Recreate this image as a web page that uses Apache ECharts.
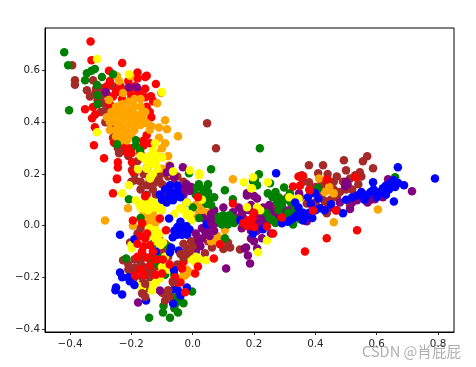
<!DOCTYPE html>
<html><head><meta charset="utf-8">
<style>html,body{margin:0;padding:0;background:#fff}#c{width:476px;height:367px}</style>
<script src="https://cdn.jsdelivr.net/npm/echarts@6/dist/echarts.min.js"></script>
</head><body><div id="c"></div>
<script>
const xTicks=[-0.4,-0.2,0,0.2,0.4,0.6,0.8];
const yTicks=[-0.4,-0.2,0,0.2,0.4,0.6];
const brownPoints=[[-0.393,0.621],[-0.384,0.563],[-0.384,0.545],[-0.345,0.524],[-0.335,0.5],[-0.325,0.563],[-0.296,0.532],[-0.292,0.474],[-0.3,0.44],[-0.276,0.42],[-0.265,0.38],[-0.247,0.517],[-0.235,0.54],[-0.244,0.3],[-0.225,0.29],[-0.25,0.35],[0.047,0.396],[0.076,0.3],[-0.149,0.222],[-0.198,0.215],[-0.188,0.176],[-0.107,0.203],[-0.1,0.203],[-0.11,0.18],[-0.149,0.156],[-0.17,0.17],[-0.13,0.14],[-0.09,0.13],
[0.04,-0.107],[0.122,-0.084],[0.154,-0.092],[0.063,-0.084],[0.115,-0.065],[-0.227,-0.134],[-0.188,-0.162],[-0.204,-0.065],[-0.21,-0.15],[-0.15,-0.18],
[0.379,0.234],[0.425,0.234],[0.493,0.253],[0.555,0.249],[0.569,0.269],[0.588,0.222],[0.5,0.214],[0.545,0.207],[0.53,0.195],[0.356,0.195],[0.409,0.203],[0.44,0.2],[0.513,0.183],[0.55,0.19],[0.46,0.17],[0.379,0.168],[0.47,0.11],[0.5,0.14],[0.437,0.048],[0.372,0.086],[0.399,0.09],[0.43,0.095],[0.513,0.079],[0.43,0.15],[0.4,0.15]];
const brownMore=[[-0.3,0.5],[-0.315,0.53],[-0.28,0.46],[-0.27,0.5],[-0.26,0.54],[-0.285,0.4],[-0.26,0.34],[-0.23,0.32],[-0.21,0.27],[-0.18,0.25],[-0.16,0.2],[-0.14,0.18],[-0.125,0.165],[-0.08,0.19],[-0.06,0.16],[-0.12,0.2],[-0.1,0.16],[-0.19,-0.2],[-0.17,-0.14],[-0.2,-0.18],[-0.18,-0.17],[-0.16,-0.16],[-0.165,-0.2],[-0.14,-0.17],[-0.12,-0.16],[-0.11,-0.14],[0.42,0.17],[0.44,0.18],[0.46,0.14],[0.48,0.13],[0.45,0.1],[0.42,0.12],[0.47,0.19],[0.49,0.17],[0.52,0.14],[0.54,0.16],[0.38,0.14],[0.36,0.17],[0.35,0.11],[0.41,0.07],[0.44,0.07],[0.08,-0.05],[0.1,-0.09],[0.05,-0.06],[0.29,0.1],[0.27,0.07],[0.31,0.11]];
const brownFill=[[-0.32,0.51],[-0.31,0.485],[-0.29,0.51],[-0.285,0.445],[-0.27,0.4],[-0.255,0.32],[-0.24,0.28],[-0.19,0.2],[-0.17,0.14],[-0.15,0.12],[-0.12,0.12],[-0.2,0.17],[-0.05,0.19],[-0.03,0.17],[-0.21,-0.17],[-0.19,-0.13],[-0.16,-0.12],[-0.14,-0.2],[-0.13,-0.18],[-0.1,-0.1],[-0.08,-0.12],[-0.17,-0.23],[-0.16,-0.25],[-0.15,-0.24],[-0.1,-0.26],[-0.05,-0.15],[-0.17,-0.01],[-0.18,-0.03],[-0.11,-0.05],[-0.09,-0.07]];
const redUpper=[[-0.333,0.713],[-0.33,0.64],[-0.23,0.63],[-0.273,0.6],[-0.18,0.593],[-0.18,0.57],[-0.15,0.58],[-0.155,0.575],[-0.12,0.548],[-0.351,0.451],[-0.325,0.459],[-0.328,0.416],[-0.318,0.43],[-0.319,0.381],[-0.322,0.311],[-0.289,0.261],[-0.244,0.245],[-0.244,0.225],[-0.247,0.183],[-0.198,0.245],[-0.195,0.21],[-0.257,0.323],[-0.214,0.284],[-0.2,0.3],[-0.139,0.319],[-0.136,0.501],[-0.129,0.482],[-0.155,0.497],[-0.27,0.56],[-0.25,0.52],[-0.23,0.49],[-0.26,0.5],[-0.21,0.56],[-0.19,0.54],[-0.17,0.52],[-0.2,0.5],[-0.28,0.54],[-0.15,0.46],[-0.135,0.42],[-0.15,0.35],[-0.16,0.33],[-0.24,0.54],[-0.22,0.52],[-0.2,0.53],[-0.18,0.51],[-0.24,0.46],[-0.27,0.47],[-0.155,0.53],[-0.14,0.44],[-0.2,0.28],[-0.17,0.28],[-0.16,0.31],[-0.22,0.31]];
const orangePoints=[[-0.28,0.42],[-0.27,0.4],[-0.265,0.44],[-0.27,0.37],[-0.25,0.46],[-0.25,0.43],[-0.25,0.4],[-0.25,0.37],[-0.25,0.345],[-0.235,0.33],[-0.23,0.47],[-0.23,0.44],[-0.23,0.41],[-0.23,0.38],[-0.23,0.35],[-0.21,0.48],[-0.21,0.45],[-0.21,0.42],[-0.21,0.39],[-0.21,0.36],[-0.215,0.33],[-0.19,0.49],[-0.19,0.46],[-0.19,0.43],[-0.19,0.4],[-0.19,0.37],[-0.17,0.49],[-0.17,0.46],[-0.17,0.43],[-0.17,0.39],[-0.155,0.44],[-0.15,0.396],[-0.14,0.37],[-0.135,0.385],
[-0.09,0.408],[-0.084,0.373],[-0.11,0.38],[-0.048,0.346],[-0.09,0.319],[-0.11,0.34],[-0.1,0.265],[-0.123,0.241],[-0.077,0.234],[-0.247,0.579],[-0.227,0.513],[-0.273,0.486],[-0.103,0.513],[-0.116,0.474],[-0.204,0.579],[-0.24,0.56],
[-0.286,0.02],[0.131,0.18],[-0.211,0.067],[-0.195,0],[-0.133,0.028],[-0.16,0.05],[-0.14,0.005],[-0.025,-0.193],[-0.04,-0.21],[-0.01,-0.18],[0.082,-0.061],[0.105,-0.018],[0.05,0.05],[0.03,0.04],[0.06,-0.03],[-0.05,0.13],
[0.604,0.063],[0.46,0.013],[0.445,0.137],[0.43,0.13],[0.46,0.125],[0.445,0.15],[0.412,0.183]];
const orangeMore=[[-0.15,0.03],[-0.13,0.045],[-0.115,0.02],[-0.125,0],[-0.16,0.02],[0.01,0.08],[0.02,0.05],[0.03,0.07],[0,0.03],[0.04,-0.04],[0.06,-0.06],[0.08,-0.04],[-0.03,-0.19],[-0.02,-0.17],[-0.1,0.3],[-0.12,0.28],[-0.08,0.27],[-0.07,0.2],[-0.1,0.22],[-0.24,0.44],[-0.22,0.43],[-0.2,0.44],[-0.18,0.41],[-0.22,0.37],[-0.24,0.39],[-0.2,0.41],[-0.26,0.41],[-0.16,0.41],[-0.2,0.35],[0.35,0.035],[0.04,0.09]];
const purplePoints=[[0.715,0.133],[0.637,0.18],[0.497,0.152],[0.505,0.16],[0.594,0.102],[0.57,0.09],[0.536,0.098],[0.513,0.065],[0.48,0.09],[0.347,0.125],[0.177,0.117],[0.21,0.105],[0.252,0.059],[0.3,0.06],[0.32,0.065],[0.372,0.017],[0.255,-0.03],[0.226,-0.049],[0.21,-0.088],[0.18,-0.115],[0.17,-0.088],[0.19,-0.05],[0.165,0.03],[0.2,0.04],[0.215,0.01],[0.235,0.03],[0.18,0],[0.19,-0.02],
[0.109,-0.166],[0.187,-0.146],[0.174,-0.084],[0.193,-0.049],[0.056,-0.006],[0.05,0.02],[0.07,0.06],[0.045,-0.03],[0.03,-0.01],[0.015,-0.05],[0.01,-0.1],[-0.025,0.148],[-0.01,0.135],[-0.03,0.12],[-0.178,-0.297],[-0.107,-0.251],[0.177,0.125],[0.2,0.115],[0.131,0.052],[0.1,0.07],[0.16,0.05],[0.185,0.06],[-0.208,0.536],[-0.182,0.536],[-0.283,0.517],[-0.032,0.226],[-0.074,0.23],[-0.061,0.187],[-0.084,0.207],[0.07,-0.02],[0.075,0.01]];
const purpleMore=[[0.15,0.07],[0.17,0.06],[0.19,0.08],[0.21,0.06],[0.23,0.07],[0.25,0.08],[0.27,0.05],[0.28,0.03],[0.22,0.04],[0.2,0.02],[0.24,0.01],[0.16,-0.01],[0.15,0.03],[0.17,0.02],[0.21,-0.02],[0.23,-0.01],[-0.02,0.16],[-0.035,0.135],[-0.005,0.15],[0.06,0.045],[0.075,0.035],[0.055,-0.04],[0.04,-0.02],[0.035,0.03],[0.025,-0.08],[0.03,-0.05],[0.2,-0.06],[0.29,0.075],[0.31,0.045],[0.45,0.07],[0.52,0.09],[0.55,0.11],[0.58,0.1],[0.62,0.11],[0.5,0.17],[0.47,0.06]];
const greenPoints=[[-0.419,0.671],[-0.406,0.621],[-0.403,0.447],[-0.345,0.59],[-0.351,0.563],[-0.319,0.606],[-0.33,0.6],[-0.296,0.575],[-0.312,0.544],[-0.309,0.505],[-0.31,0.47],[-0.26,0.586],[-0.185,0.331],[-0.185,0.31],[-0.247,0.315],[-0.172,0.292],[0.06,0.218],[-0.012,0.203],
[-0.142,-0.356],[-0.097,-0.336],[-0.095,-0.31],[-0.074,-0.356],[-0.06,-0.32],[-0.048,-0.336],[-0.041,-0.282],[-0.002,-0.255],[-0.074,-0.258],[-0.217,-0.127],[-0.123,-0.134],[0.014,0.148],[0.035,0.14],[0.105,0.137],[-0.208,0.102],[0.131,0.102],[0.034,0.098],[0.06,0.08],[0.203,0.176],[0.105,-0.049],
[0.219,0.3],[0.216,0.199],[0.197,0.172],[0.21,0.156],[0.252,0.164],[0.245,0.125],[0.27,0.13],[0.298,0.148],[0.275,0.09],[0.29,0.08],[0.334,0.067],[0.31,0.05],[0.327,0.005],[0.409,0.145],[0.66,0.187],[0.317,0.125],[0.262,0.02],[0.24,0.05]];
const greenMore=[[0.01,0.12],[0.03,0.12],[0.05,0.1],[0.02,0.16],[0.05,0.13],[0.07,0.11],[0.045,0.085],[-0.14,-0.13],[-0.125,-0.145],[-0.11,-0.125],[-0.13,-0.115],[-0.06,-0.28],[-0.055,-0.3],[-0.03,-0.3],[0.28,0.11],[0.3,0.1],[0.32,0.09],[0.26,0.11],[0.28,0.06],[0.3,0.03],[0.25,0.03],[0.27,0.01],[0.33,0.04],[0.355,0.05],[0.35,0.025]];
const yellowPoints=[[-0.312,0.645],[-0.312,0.362],[-0.208,0.586],[-0.1,0.517],[-0.162,0.265],[-0.14,0.27],[-0.123,0.319],[-0.13,0.29],[-0.15,0.25],[-0.139,0.187],[-0.009,0.214],[0.021,0.203],[-0.064,0.21],[-0.178,0.218],[-0.1,0.265],[-0.13,0.2],[-0.208,0.156],[-0.23,0.125],[-0.185,0.098],[-0.17,0.07],[-0.15,0.08],[-0.13,0.07],[-0.11,0.065],[-0.16,0.09],[-0.14,0.095],[-0.139,0.183],[-0.12,-0.018],[-0.097,-0.065],[-0.13,-0.04],[-0.198,-0.088],[-0.107,-0.204],[-0.133,-0.251],[-0.181,-0.231],[-0.12,-0.22],[0.008,-0.142],[0.043,-0.134],[-0.041,0.067],[-0.01,0.045],[-0.03,0.06],[0.167,0.168],[0.193,0.145],[0.021,0.195],[0.197,0.187],[0.19,0.145],[0.245,0.168],[0.334,0.098],[0.21,0.071],[0.177,0.071],[0.242,-0.057],[0.213,-0.103],[-0.01,-0.1]];
const yellowMore=[[-0.175,0.085],[-0.16,0.065],[-0.145,0.06],[-0.125,0.09],[-0.105,0.08],[-0.1,0.06],[-0.02,0.04],[-0.005,0.02],[-0.115,-0.05],[-0.105,-0.03],[-0.12,-0.06],[-0.115,-0.19],[-0.13,-0.23],[-0.165,-0.24],[-0.005,-0.13],[0.01,-0.12],[-0.15,0.22],[-0.13,0.24],[-0.115,0.22],[-0.115,0.27],[0.22,0.06],[0.315,0.11],[0.345,0.105],[-0.17,0.27],[-0.12,0.25]];
const yellowFill=[[-0.2,-0.075],[-0.1,-0.16],[-0.08,-0.17],[-0.02,0.09],[-0.09,-0.12],[0.02,-0.13],[-0.14,-0.01],[-0.105,-0.075],[0.03,0.1],[-0.06,0.045]];
const greenFill=[[-0.08,-0.08],[-0.09,-0.19],[-0.13,-0.07],[-0.02,0.09],[0,0.07],[0.02,0.03],[0.05,0.16],[-0.17,0.03],[-0.06,-0.19]];
const greenBlob=[[0.085,0.02],[0.095,0.035],[0.095,0.005],[0.105,0.02],[0.115,0.035],[0.115,0.005],[0.125,0.02],[0.135,0.02],[0.1,0.04],[0.12,0.04],[0.135,0.01],[0.085,0.035],[0.13,0.03]];
const bluePoints=[[-0.035,-0.018],[-0.05,-0.02],[-0.02,-0.02],[-0.035,-0.035],[-0.035,0],[-0.05,-0.005],[-0.02,-0.002],[-0.05,-0.035],[-0.018,-0.035],[-0.06,-0.02],[-0.01,-0.015],[-0.04,0.015],[-0.065,-0.045],
[-0.237,-0.035],[-0.19,-0.053],[-0.12,-0.1],[-0.074,-0.103],[-0.07,-0.085],[-0.045,-0.096],[-0.077,0.028],[-0.237,-0.181],[-0.23,-0.2],[-0.205,-0.215],[-0.25,-0.239],[-0.252,-0.25],[-0.23,-0.266],[-0.152,-0.29],[-0.064,-0.301],[-0.061,-0.173],[-0.048,-0.251],[-0.019,-0.239],[-0.074,0.156],[-0.107,0.121],[-0.064,0.098],[-0.04,0.11],[-0.085,0.09],
[0.79,0.183],[0.669,0.226],[0.272,0.203],[0.588,0.168],[0.656,0.176],[0.689,0.156],[0.656,0.094],[0.62,0.145],[0.536,0.117],[0.57,0.12],[0.6,0.125],[0.63,0.12],[0.66,0.15],[0.376,0.11],[0.399,0.125],[0.41,0.105],[0.415,0.067],[0.49,0.048],[0.451,0.083],[0.34,0.04],[0.36,0.05],[0.317,0.02],[0.39,0.055],[0.334,0.09],[0.229,-0.014],[0.291,0.009],[0.197,-0.03],[0.6,0.11],[0.56,0.1]];
const blueMore=[[-0.09,0.14],[-0.07,0.13],[-0.05,0.13],[-0.06,0.115],[-0.08,0.11],[-0.1,0.1],[-0.05,0.155],[-0.21,-0.2],[-0.19,-0.23],[-0.06,-0.245],[-0.04,-0.27],[0.33,0.03],[0.35,0.035],[0.37,0.04],[0.38,0.05],[0.4,0.06],[0.43,0.06],[0.39,0.03],[0.36,0.02],[0.31,0.015],[0.55,0.13],[0.58,0.13],[0.59,0.14],[0.61,0.13],[0.64,0.14],[0.63,0.155],[0.67,0.165],[0.645,0.165],[0.52,0.11],[0.5,0.1],[0.385,0.085],[0.345,0.07],[0.045,0.005],[0.155,0.02]];
const redLower=[[-0.247,0.18],[-0.26,0.125],[-0.155,0.114],[-0.195,0.02],[-0.165,0.009],[-0.107,0.028],[-0.087,-0.018],[-0.149,-0.03],[-0.155,-0.05],[-0.139,-0.076],[-0.165,-0.1],[-0.149,-0.123],[-0.097,-0.131],[-0.139,-0.154],[-0.188,-0.193],[-0.16,-0.19],[-0.1,-0.185],[-0.058,-0.2],[-0.05,-0.22],[-0.035,-0.166],[0.008,-0.185],[0.017,-0.158],[0.069,-0.127],[0.089,-0.072],[-0.025,-0.258],[0.017,0.11],[0.131,0.086],[0.177,0],[0.19,0.01],[0.366,-0.1],[0.437,-0.049],[0.536,-0.018],[0.36,0.191],[0.345,0.19],[0.437,0.179],[0.532,0.187],[0.327,0.152],[0.35,0.155],[0.392,0.059],[0.467,0.059],[0.242,-0.003],[0.262,-0.03],[0.291,0.032],[0.382,0.137],[0.2,0.05]];
const redMore=[[-0.17,-0.04],[-0.18,-0.07],[-0.16,-0.08],[-0.18,-0.12],[-0.13,-0.1],[-0.12,-0.13],[-0.17,-0.17],[-0.12,-0.19],[-0.065,-0.215],[-0.04,-0.22],[-0.075,-0.15],[-0.03,-0.14],[0.18,0.02],[0.2,-0.005],[0.165,0.01],[0.195,0.03]];
const brownTop=[[-0.019,-0.088],[-0.04,-0.11],[-0.005,-0.06],[-0.02,-0.11],[0,-0.08],[-0.03,-0.07],[-0.01,-0.1],[-0.03,-0.125],[-0.165,-0.262],[-0.155,-0.225],[-0.155,-0.275],[-0.09,-0.29],[-0.075,-0.275],[-0.064,-0.22],[-0.08,-0.25],[-0.085,-0.27]];
const purpleTop=[[0.01,-0.03],[0.02,-0.06],[0.06,0.01],[-0.01,0.135]];

const colorMap={brown:'#a52a2a',red:'#ff0000',orange:'#ffa500',purple:'#800080',green:'#008000',yellow:'#ffff00',blue:'#0000ff'};
const layers=[[brownPoints,'brown'],[brownMore,'brown'],[brownFill,'brown'],[redUpper,'red'],[orangePoints,'orange'],[orangeMore,'orange'],[purplePoints,'purple'],[purpleMore,'purple'],[greenPoints,'green'],[greenMore,'green'],[greenFill,'green'],[yellowPoints,'yellow'],[yellowMore,'yellow'],[yellowFill,'yellow'],[greenBlob,'green'],[bluePoints,'blue'],[blueMore,'blue'],[redLower,'red'],[redMore,'red'],[brownTop,'brown'],[purpleTop,'purple']];
const axisCommon={
  axisLine:{onZero:false,lineStyle:{color:'#000',width:1}},
  axisTick:{inside:false,length:3,lineStyle:{color:'#000',width:0.8}},
  axisLabel:{color:'#262626',fontFamily:'DejaVu Sans',fontSize:10.3,
    formatter:v=>(v<0?'\u2212':'')+Math.abs(v).toFixed(1)},
  splitLine:{show:false}
};
const chart=echarts.init(document.getElementById('c'),null,{renderer:'canvas'});
chart.setOption({
  animation:false,
  backgroundColor:'#fff',
  grid:{left:45,top:28,width:409,height:304,show:true,borderColor:'#000',borderWidth:1,backgroundColor:'transparent'},
  xAxis:{type:'value',min:-0.4816,max:0.852,...axisCommon,
    axisTick:{...axisCommon.axisTick,customValues:xTicks},
    axisLabel:{...axisCommon.axisLabel,margin:7,customValues:xTicks}},
  yAxis:{type:'value',min:-0.4115,max:0.765,...axisCommon,
    axisTick:{...axisCommon.axisTick,customValues:yTicks},
    axisLabel:{...axisCommon.axisLabel,margin:5,customValues:yTicks}},
  series:layers.map(([d,c],i)=>({type:'scatter',data:d,symbolSize:8.5,z:2+i,silent:true,
    itemStyle:{color:colorMap[c],opacity:1}})),
  graphic:[{type:'text',left:362,top:344,z:100,silent:true,
    style:{text:'CSDN @肖屁屁',fill:'rgba(120,120,120,0.6)',font:'14.6px "Noto Sans CJK SC","DejaVu Sans"'}}]
});
</script></body></html>
